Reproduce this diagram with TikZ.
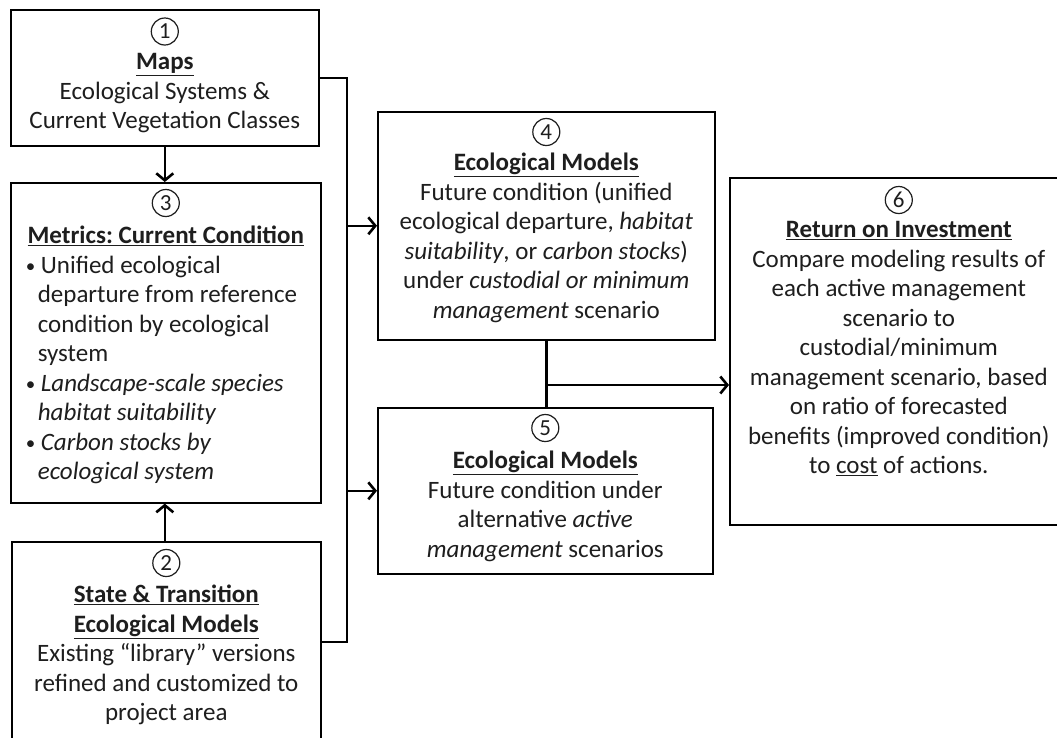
\documentclass[tikz,border=0pt]{standalone}
\usepackage{fontspec}
\setmainfont{Carlito}
\usetikzlibrary{arrows.meta,calc}
\definecolor{txt}{HTML}{1E1E1E}
\frenchspacing
\newcommand{\bxt}[4]{\parbox[c][#2pt][t]{#1pt}{\frenchspacing\fontsize{25}{29.5}\selectfont\color{txt}\centering\vspace*{#3pt}\rule{0pt}{20pt}#4}}
\newcommand{\ttl}[1]{\textbf{\underline{#1}}}
\newcommand{\hng}{\hspace*{12pt}}
\newcommand{\bul}{\raisebox{1pt}{\fontsize{19}{19}\selectfont\textbullet}\ }
\begin{document}
\begin{tikzpicture}[x=1pt,y=-1pt,
  boxst/.style={draw=black,line width=1.6pt,inner sep=0pt,anchor=north west,fill=white},
  numc/.style={circle,draw=txt,line width=1.2pt,minimum size=27pt,inner sep=0pt,text=txt,font=\fontsize{23}{23}\selectfont},
  conn/.style={line width=2.6pt,draw=black,line join=miter},
  arr/.style={conn,-{Straight Barb[length=7pt,width=17pt]}}]
\useasboundingbox (0,0) rectangle (1057,737);
\clip (0,0) rectangle (1057,737);
\fill[white] (0,0) rectangle (1057,737);

\node[boxst] (b1) at (10,9) {\bxt{308}{136}{40}{\ttl{Maps}\\ Ecological Systems \&\\ Current Vegetation Classes}};

\node[boxst] (b3) at (10,182) {\bxt{310}{320}{41}{{\ttl{Metrics: Current Condition}\par}
\raggedright\leftskip=15pt
\bul Unified ecological\\\hng departure from reference\\\hng condition by ecological\\\hng system\\
\bul \textit{Landscape-scale species}\\\hng\textit{habitat suitability}\\
\bul \textit{Carbon stocks by}\\\hng\textit{ecological system}\par}};

\node[boxst] (b2) at (11,541) {\bxt{309}{200}{41}{\ttl{State \& Transition}\\ \ttl{Ecological Models}\\ Existing “library” versions\\ refined and customized to\\ project area}};

\node[boxst] (b4) at (377,111) {\bxt{337}{228}{39}{\ttl{Ecological Models}\\ Future condition (unified\\ ecological departure, \textit{habitat}\\ \textit{suitability}, or \textit{carbon stocks})\\ under \textit{custodial or minimum}\\ \textit{management} scenario}};

\node[boxst] (b5) at (377,407) {\bxt{335}{166}{41}{\ttl{Ecological Models}\\ Future condition under\\ alternative \textit{active}\\ \textit{management} scenarios}};

\node[boxst] (b6) at (729,177) {\bxt{338}{347}{40}{\ttl{Return on Investment}\\ Compare modeling results of\\ each active management\\ scenario to\\ custodial/minimum\\ management scenario, based\\ on ratio of forecasted\\ benefits (improved condition)\\ to \underline{cost} of actions.}};

% circled numbers
\node[numc] (n1) at ($(b1.north)+(0,22.5)$) {1};
\node[numc] (n3) at ($(b3.north)+(0,21)$) {3};
\node[numc] (n2) at ($(b2.north)+(0,22)$) {2};
\node[numc] (n4) at ($(b4.north)+(0,21)$) {4};
\node[numc] (n5) at ($(b5.north)+(0,21)$) {5};
\node[numc] (n6) at ($(b6.north)+(0,23)$) {6};

% connectors
\coordinate (bx) at (347,0);
\coordinate (j) at (545.5,385);
\draw[arr] (b1.south) -- (b1.south |- b3.north);
\draw[arr] (b1.south |- b2.north) -- (b1.south |- b3.south);
\draw[conn] (b1.east) -| (bx |- b2.east) -- (b2.east);
\draw[arr] (bx |- b4.west) -- (b4.west);
\draw[arr] (bx |- b5.west) -- (b5.west);
\draw[conn] (b4.south) -- (b4.south |- b5.north);
\draw[arr] (j) -- (j -| b6.west);
\end{tikzpicture}
\end{document}
